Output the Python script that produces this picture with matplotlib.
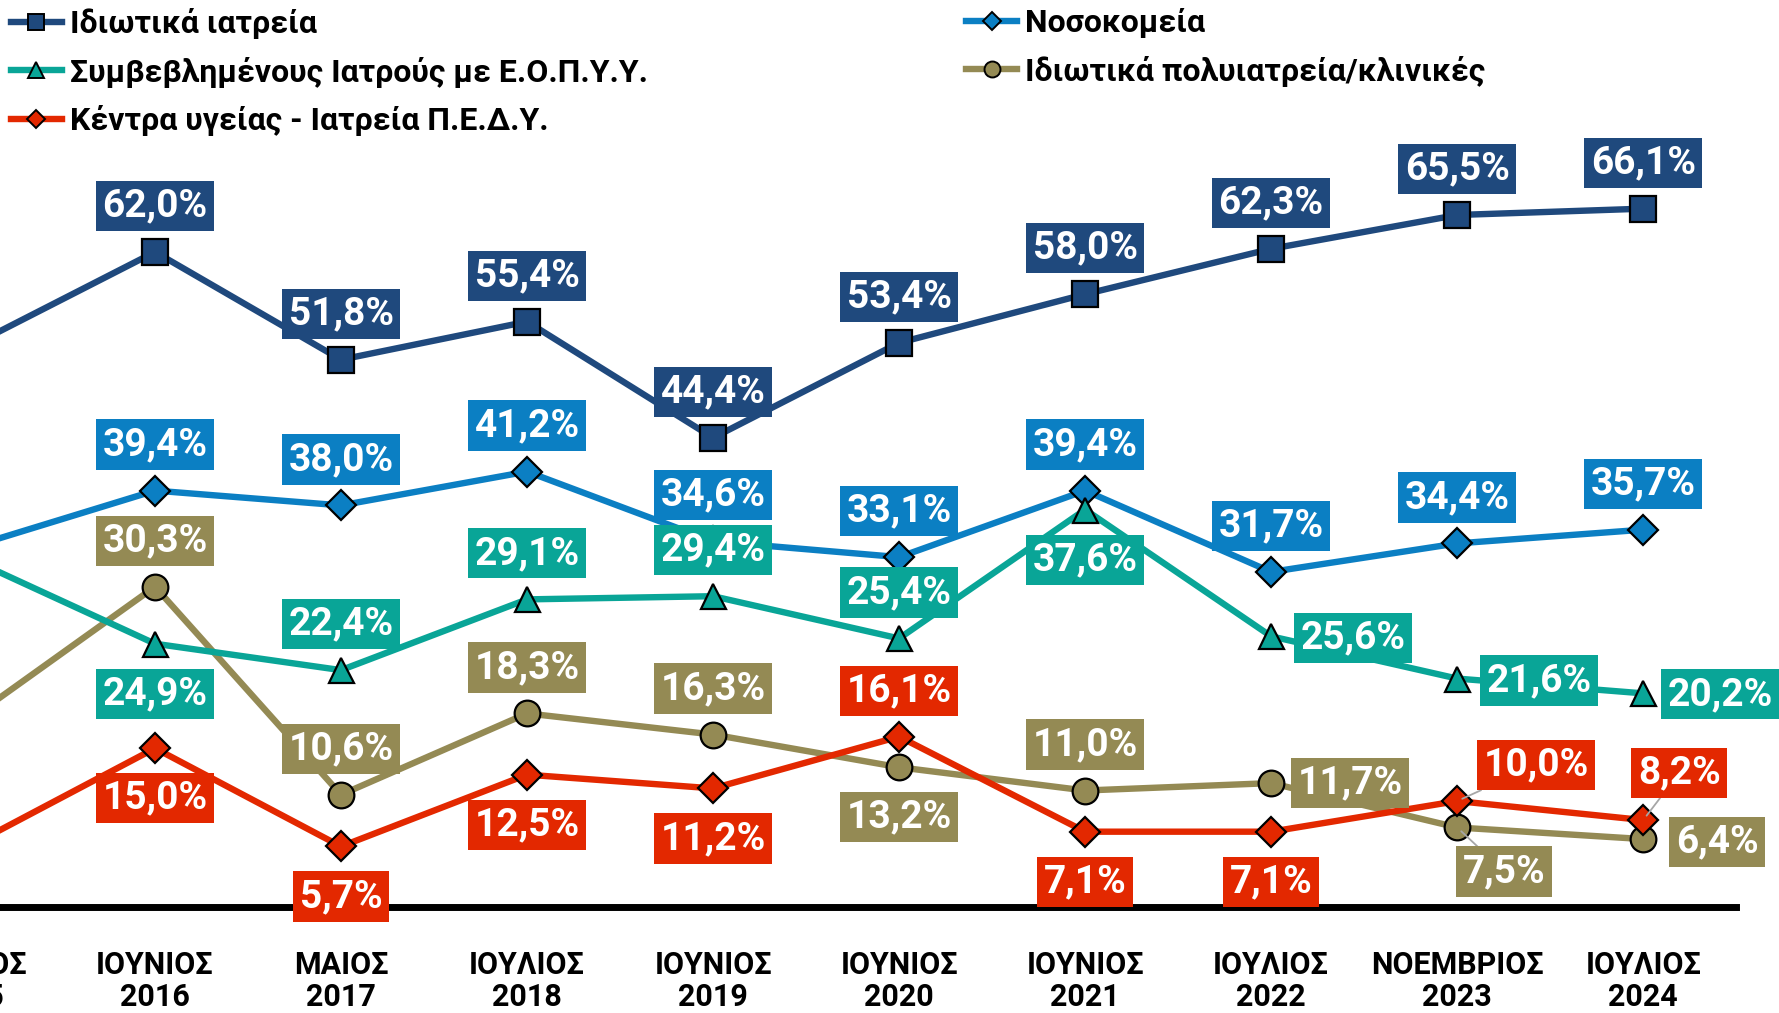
import matplotlib.pyplot as plt
from matplotlib.lines import Line2D

plt.rcParams['font.family'] = ['Roboto', 'DejaVu Sans']

# periods (the first one is cut off at the left edge of the picture)
periods = ['ΙΟΥΝΙΟΣ\n2015', 'ΙΟΥΝΙΟΣ\n2016', 'ΜΑΙΟΣ\n2017', 'ΙΟΥΛΙΟΣ\n2018', 'ΙΟΥΝΙΟΣ\n2019',
           'ΙΟΥΝΙΟΣ\n2020', 'ΙΟΥΝΙΟΣ\n2021', 'ΙΟΥΛΙΟΣ\n2022', 'ΝΟΕΜΒΡΙΟΣ\n2023', 'ΙΟΥΛΙΟΣ\n2024']

idiotika_iatreia = [53.0, 62.0, 51.8, 55.4, 44.4, 53.4, 58.0, 62.3, 65.5, 66.1]
nosokomeia = [34.0, 39.4, 38.0, 41.2, 34.6, 33.1, 39.4, 31.7, 34.4, 35.7]
symvevlimenoi = [33.0, 24.9, 22.4, 29.1, 29.4, 25.4, 37.6, 25.6, 21.6, 20.2]
polyiatreia = [17.7, 30.3, 10.6, 18.3, 16.3, 13.2, 11.0, 11.7, 7.5, 6.4]
kentra_ygeias = [5.7, 15.0, 5.7, 12.5, 11.2, 16.1, 7.1, 7.1, 10.0, 8.2]

names = ['Ιδιωτικά ιατρεία', 'Νοσοκομεία', 'Συμβεβλημένους Ιατρούς με Ε.Ο.Π.Υ.Υ.',
         'Ιδιωτικά πολυιατρεία/κλινικές', 'Κέντρα υγείας - Ιατρεία Π.Ε.Δ.Υ.']

# label placement: offsets in pixels (dx, dy) from the marker
A = (0, 46)
B = (0, -50)
places = [
    [A] * 10,
    [A] * 10,
    [B, B, A, A, A, A, B, (82, -2), (82, -2), (77, -1)],
    [B, A, A, A, A, B, A, (79, 0), (47, -44), (74, -3)],
    [B, B, B, B, B, A, B, B, (79, 36), (36, 47)],
]
leaders = [set(), set(), set(), {8}, {8, 9}]

colors = ['#1F497D', '#0B7FC3', '#09A597', '#948A54', '#E32800']
markers = ['s', 'D', '^', 'o', 'D']
msizes = [19, 15, 18, 18.5, 15]
zorders = [3, 3, 4, 3, 5]

fig = plt.figure(figsize=(17.79, 10.13), dpi=100)
ax = fig.add_axes([0, 0, 1, 1])
x0, x1 = 0.1667, 9.73
ax.set_xlim(x0, x1)
ax.set_ylim(-10.07, 85.86)
ax.axis('off')

series = [idiotika_iatreia, nosokomeia, symvevlimenoi, polyiatreia, kentra_ygeias]
x = list(range(len(periods)))

for k, vals in enumerate(series):
    ax.plot(x, vals, color=colors[k], lw=4.6, marker=markers[k], ms=msizes[k],
            mfc=colors[k], mec='black', mew=1.6, zorder=zorders[k], clip_on=False)
    for i, v in enumerate(vals):
        txt = f'{v:.1f}%'.replace('.', ',')
        ap = None
        if i in leaders[k]:
            ap = dict(arrowstyle='-', color='#A6A6A6', lw=1.3, shrinkA=0, shrinkB=4)
        ax.annotate(txt, (i, v), xytext=places[k][i], textcoords='offset pixels',
                    ha='center', va='center', color='white', fontsize=28,
                    fontweight='bold', zorder=10, arrowprops=ap,
                    bbox=dict(boxstyle='square,pad=0.17', fc=colors[k], ec='none'))

# horizontal base line
ax.axhline(0, xmin=0, xmax=(9.5 - x0) / (x1 - x0), color='black', lw=5, zorder=2)

for i, p in enumerate(periods):
    ax.text(i, -7.05, p, ha='center', va='center', fontsize=22, fontweight='bold',
            linespacing=1.1, color='black')

handles = []
for k in range(5):
    handles.append(Line2D([], [], color=colors[k], lw=4.6, marker=markers[k],
                          ms=msizes[k] * 0.62, mfc=colors[k], mec='black', mew=1.4))

leg_kw = dict(loc='upper left', frameon=False, prop={'size': 23, 'weight': 'bold'},
              handlelength=1.6, handletextpad=0.25, labelspacing=0.55,
              borderpad=0, borderaxespad=0)
leg1 = ax.legend([handles[0], handles[2], handles[4]], [names[0], names[2], names[4]],
                 bbox_to_anchor=(0.006, 0.992), **leg_kw)
ax.add_artist(leg1)
ax.legend([handles[1], handles[3]], [names[1], names[3]],
          bbox_to_anchor=(0.543, 0.992), **leg_kw)

fig.savefig('out.png', dpi=100)
